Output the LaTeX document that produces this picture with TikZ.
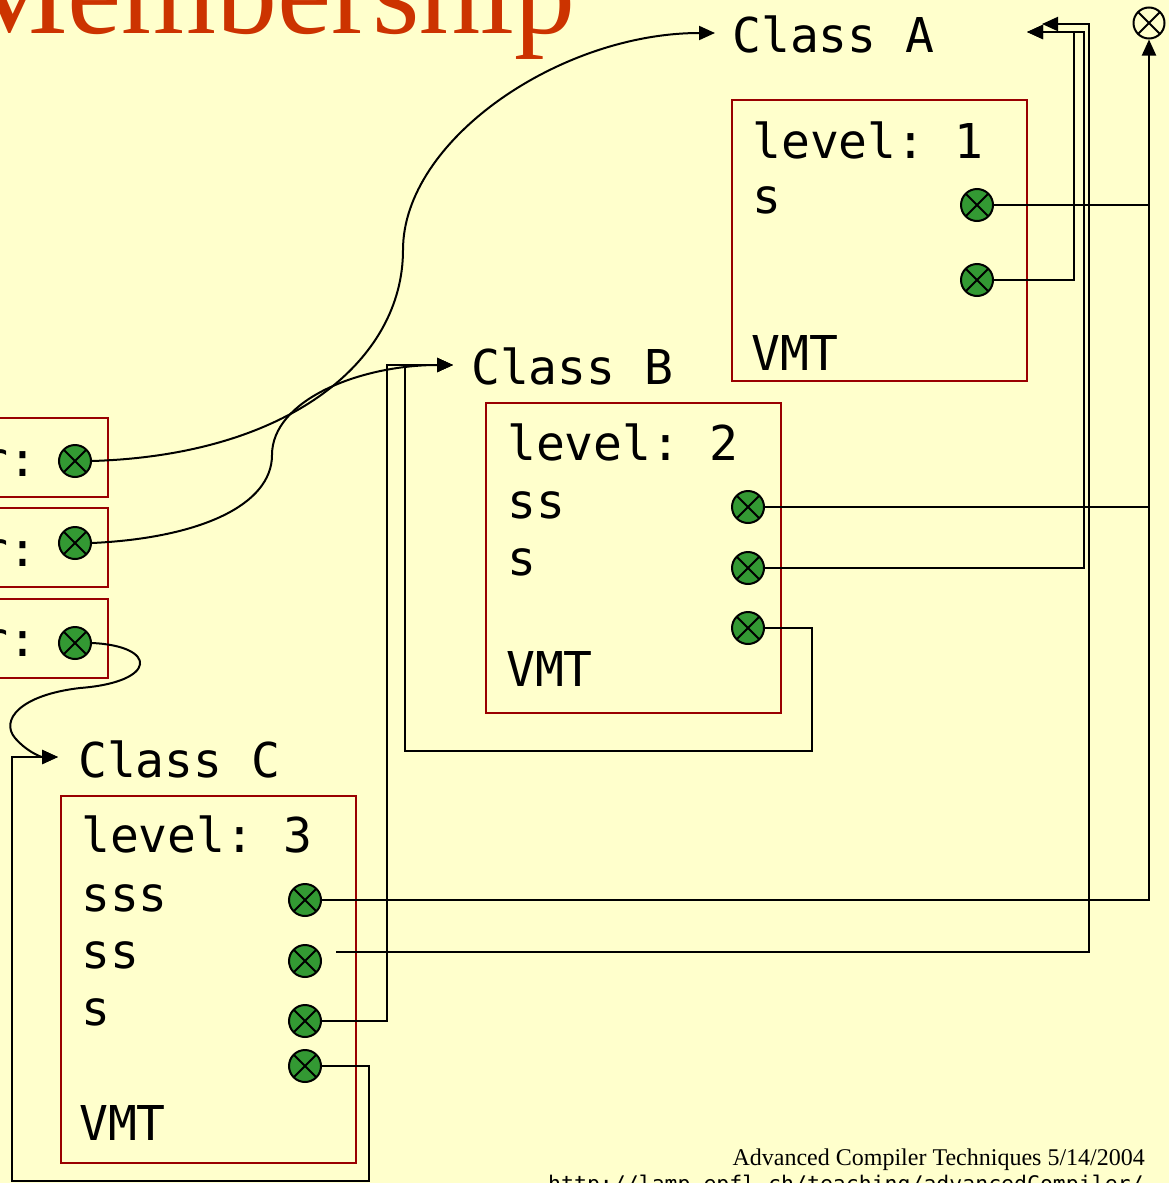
\documentclass[tikz,border=0pt]{standalone}
\usepackage{fontspec}
\setmainfont{Liberation Serif}
\newfontfamily\codefont{DejaVu Sans Mono}
\usetikzlibrary{arrows.meta}
\definecolor{paper}{HTML}{FFFFCC}
\definecolor{boxred}{HTML}{990000}
\definecolor{refgreen}{HTML}{339933}
\definecolor{titlered}{HTML}{CC3300}
\frenchspacing
\tikzset{
  frame/.style={draw=boxred, line width=2.2pt, inner sep=0pt},
  xmark/.style={path picture={\draw[black, line width=2pt]
      (path picture bounding box.north west) -- (path picture bounding box.south east)
      (path picture bounding box.north east) -- (path picture bounding box.south west);}},
  ref/.style={circle, minimum size=32pt, inner sep=0pt, fill=refgreen, draw=black, line width=2pt, xmark},
  nullref/.style={circle, minimum size=31pt, inner sep=0pt, draw=black, line width=2pt, xmark},
  wire/.style={line width=2pt, black},
  arr/.style={wire, -{Triangle[length=16pt,width=14pt]}},
  lbl/.style={font=\codefont\fontsize{48}{48}\selectfont, inner sep=0pt, anchor=base west},
}
\begin{document}
\begin{tikzpicture}[x=1pt, y=-1pt]
\fill[paper] (0,0) rectangle (1169,1183);
\useasboundingbox (0,0) rectangle (1169,1183);

% title and footer
\node[anchor=base west, inner sep=0pt, text=titlered, font=\fontsize{122}{122}\selectfont] (title) at (-41,33) {Membership};
\node[anchor=base east, inner sep=0pt, font=\fontsize{24}{24}\selectfont] (footer) at (1145,1165) {Advanced Compiler Techniques 5/14/2004};
\node[anchor=base west, inner sep=0pt, font=\codefont\fontsize{21.5}{21.5}\selectfont] (url) at (548,1191) {http://lamp.epfl.ch/teaching/advancedCompiler/};

% objects on the left
\node[frame, anchor=north east, minimum width=150pt, minimum height=79pt] (obj1) at (109,417) {};
\node[frame, anchor=north east, minimum width=150pt, minimum height=79pt] (obj2) at (109,507) {};
\node[frame, anchor=north east, minimum width=150pt, minimum height=79pt] (obj3) at (109,598) {};
\node[lbl] (o1txt) at (-21,476) {r:};
\node[lbl] (o2txt) at (-21,566) {r:};
\node[lbl] (o3txt) at (-21,656) {r:};
\node[ref] (l1) at (75,461) {};
\node[ref] (l2) at (75,543) {};
\node[ref] (l3) at (75,643) {};

% class A
\node[lbl] (classA) at (732,52) {Class A};
\node[frame, anchor=north west, minimum width=295pt, minimum height=281pt] (boxA) at (731,99) {};
\node[lbl] (levA) at (752,158) {level: 1};
\node[lbl] (sA) at (752,213) {s};
\node[lbl] (vmtA) at (751,370) {VMT};
\node[ref] (a1) at (977,205) {};
\node[ref] (a2) at (977,280) {};

% class B
\node[lbl] (classB) at (471,384) {Class B};
\node[frame, anchor=north west, minimum width=295pt, minimum height=310pt] (boxB) at (485,402) {};
\node[lbl] (levB) at (507,460) {level: 2};
\node[lbl] (ssB) at (507,518) {ss};
\node[lbl] (sB) at (507,575) {s};
\node[lbl] (vmtB) at (506,686) {VMT};
\node[ref] (b1) at (748,507) {};
\node[ref] (b2) at (748,568) {};
\node[ref] (b3) at (748,628) {};

% class C
\node[lbl] (classC) at (78,777) {Class C};
\node[frame, anchor=north west, minimum width=295pt, minimum height=367pt] (boxC) at (60,795) {};
\node[lbl] (levC) at (81,852) {level: 3};
\node[lbl] (sssC) at (81,911) {sss};
\node[lbl] (ssC) at (81,968) {ss};
\node[lbl] (sC) at (81,1025) {s};
\node[lbl] (vmtC) at (79,1140) {VMT};
\node[ref] (c1) at (305,900) {};
\node[ref] (c2) at (305,961) {};
\node[ref] (c3) at (305,1021) {};
\node[ref] (c4) at (305,1066) {};

% null reference
\node[nullref] (null) at (1149,23) {};

% arrow targets
\coordinate (tipA) at (715,33);
\coordinate (tipAlow) at (1027,32);
\coordinate (tipAhigh) at (1042,24);
\coordinate (tipB) at (453,365);
\coordinate (tipC) at (58,757);
\coordinate (ssCstart) at (336,952);

% object class pointers
\draw[arr] (l1.east) .. controls (290,455) and (403,360) .. (403,250)
  .. controls (403,140) and (560,33) .. (tipA);
\draw[arr] (l2.east) .. controls (200,538) and (272,505) .. (272,455)
  .. controls (272,400) and (360,365) .. (tipB);
\draw[arr] (l3.east) .. controls (158,646) and (158,682) .. (80,688)
  .. controls (20,695) and (0,720) .. (15,738)
  .. controls (25,750) and (40,757) .. (tipC);

% display entries pointing to the level 1 class
\draw[wire] (c1.east) -- (1149,900) -- (1149,507);
\draw[wire] (b1.east) -- (1149,507) -- (1149,205);
\draw[arr] (a1.east) -- (1149,205) -- (null.south);
\draw[arr] (a2.east) -- (1074,280) -- (1074,32) -- (tipAlow);
\draw[arr] (b2.east) -- (1084,568) -- (1084,32) -- (tipAlow);
\draw[arr] (ssCstart) -- (1089,952) -- (1089,24) -- (tipAhigh);

% self pointers of B and C
\draw[arr] (b3.east) -- (812,628) -- (812,751) -- (405,751) -- (405,365) -- (tipB);
\draw[arr] (c3.east) -- (387,1021) -- (387,365) -- (tipB);
\draw[arr] (c4.east) -- (369,1066) -- (369,1181) -- (12,1181) -- (12,757) -- (tipC);
\end{tikzpicture}
\end{document}
